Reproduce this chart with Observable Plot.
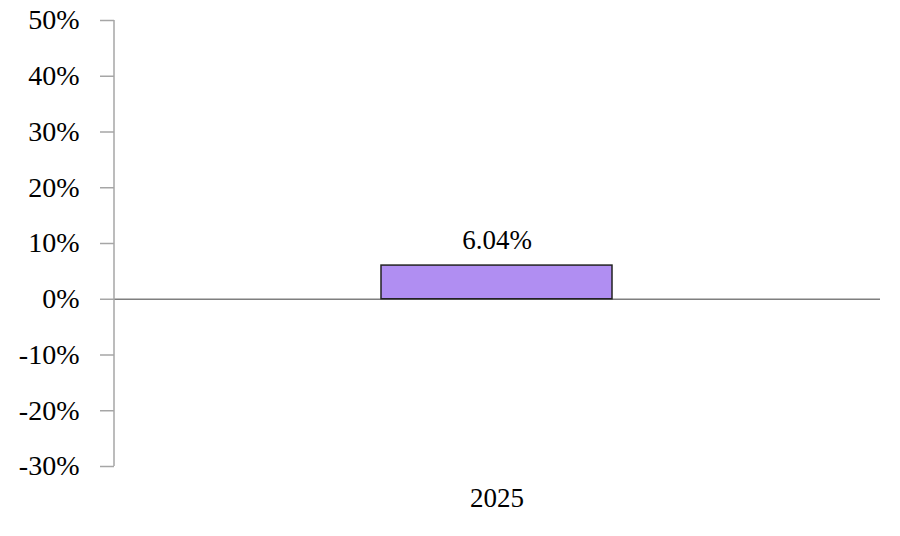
<!DOCTYPE html>
<html>
<head>
<meta charset="utf-8">
<script src="https://cdn.jsdelivr.net/npm/d3@7"></script>
<script src="https://cdn.jsdelivr.net/npm/@observablehq/plot@0.6"></script>
<style>
  body { margin: 0; background: #fff; }
  #chart svg, #chart svg text { font-family: "Liberation Serif", "Times New Roman", serif !important; }
</style>
</head>
<body>
<div id="chart"></div>
<script>
const years = ["2025"];
const values = [6.04];
const yTicks = [-30, -20, -10, 0, 10, 20, 30, 40, 50];

const data = years.map((y, i) => ({year: y, value: values[i]}));

const chart = Plot.plot({
  width: 900,
  height: 536,
  marginLeft: 114,
  marginRight: 20,
  marginTop: 20,
  marginBottom: 70,
  style: {fontFamily: "Liberation Serif, serif", fontSize: "27px", color: "black", background: "white"},
  x: {domain: years, padding: 0.536, label: null},
  y: {domain: [-30, 50], label: null},
  marks: [
    Plot.axisY({ticks: yTicks, tickFormat: d => d + "%", tickSize: 14, tickPadding: 21, stroke: "#a6a6a6", fill: "black", label: null, strokeWidth: 1.5, fontSize: 28}),
    Plot.axisX({tickSize: 0, tickPadding: 21, fill: "black", label: null}),
    Plot.ruleY([0], {stroke: "#7f7f7f", strokeWidth: 1.5}),
    Plot.barY(data, {x: "year", y: "value", fill: "#b08ef2", stroke: "#222", strokeWidth: 1.5}),
    Plot.text(data, {x: "year", y: "value", text: d => d.value.toFixed(2) + "%", dy: -25, fill: "black"})
  ]
});
// vertical y-axis line, positioned via the chart's own y scale
const ys = chart.scale("y");
d3.select(chart).append("line")
  .attr("x1", 114).attr("x2", 114)
  .attr("y1", ys.apply(50)).attr("y2", ys.apply(-30))
  .attr("stroke", "#a6a6a6").attr("stroke-width", 1.5);
document.getElementById("chart").appendChild(chart);
</script>
</body>
</html>
